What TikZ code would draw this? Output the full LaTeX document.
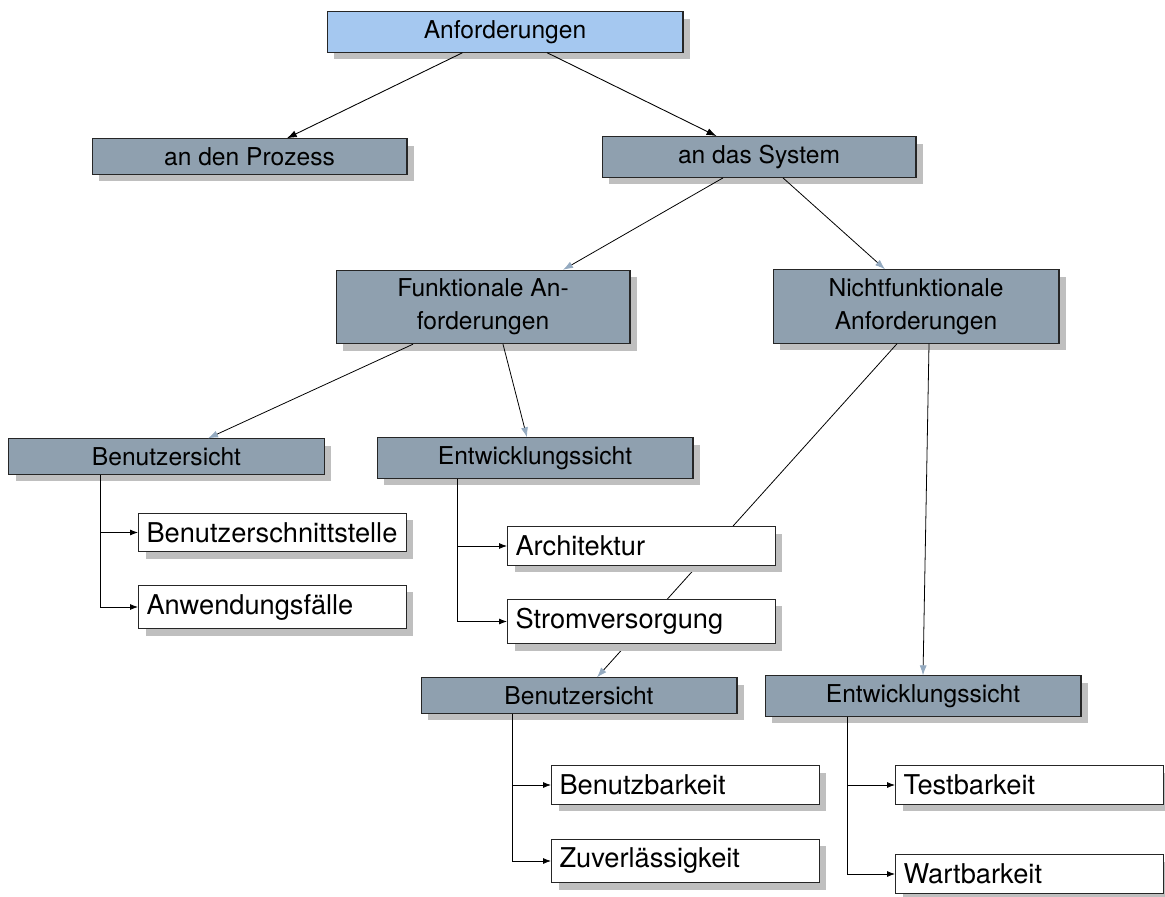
\documentclass[tikz,border=0pt]{standalone}
\usepackage{fontspec}
\setmainfont{TeX Gyre Heros}
\usetikzlibrary{arrows.meta,shadows}
\definecolor{anfblue}{RGB}{165,200,240}
\definecolor{boxgray}{RGB}{143,160,175}
\definecolor{tipgray}{RGB}{148,170,192}
\definecolor{shadowgray}{RGB}{191,191,191}

\begin{document}
\begin{tikzpicture}[x=0.02cm,y=-0.02cm,
    box/.style={draw=black!85,line width=0.6pt,
      drop shadow={shadow xshift=0.14cm,shadow yshift=-0.14cm,fill=shadowgray,opacity=1},
      font=\fontsize{14}{18.8}\selectfont,align=center,inner xsep=0.16cm,inner ysep=0.17cm,minimum height=0.7cm},
    graybox/.style={box,fill=boxgray,minimum width=6.32cm},
    leaf/.style={box,fill=white,anchor=west,align=left,text width=5.04cm,inner xsep=0.16cm,inner ysep=0.18cm,
      font=\fontsize{15.5}{18}\selectfont},
    topedge/.style={draw=black,line width=0.5pt,-{Latex[length=0.2cm,width=0.14cm]}},
    subedge/.style={draw=black,line width=0.45pt,-{Latex[length=0.2cm,width=0.14cm,color=tipgray]}},
    treearrow/.style={draw=black,line width=0.45pt,-{Latex[length=0.16cm,width=0.12cm]}}]
      \useasboundingbox (0,0) rectangle (1165,896);
      \node[graybox,fill=anfblue,minimum width=7.12cm,minimum height=0.8cm] (anf) at (505,32) {Anforderungen};
      \node[graybox,minimum width=6.3cm] (proz) at (249.5,156.5) {an den Prozess};
      \node[graybox,minimum width=6.28cm] (sys) at (759,157) {an das System};
      \node[graybox,minimum width=5.88cm] (funk) at (483,307) {Funktionale An-\\forderungen};
      \node[graybox,minimum width=5.72cm] (nfunk) at (916,306.5) {Nichtfunktionale\\Anforderungen};
      \node[graybox] (fbsicht) at (166.5,456.5) {Benutzersicht};
      \node[graybox] (fesicht) at (535,458) {Entwicklungssicht};
      \node[graybox] (nbsicht) at (579,695.5) {Benutzersicht};
      \node[graybox] (nesicht) at (923,696) {Entwicklungssicht};
      \draw[topedge] (anf) -- (proz);
      \draw[topedge] (anf) -- (sys);
      \draw[subedge] ([xshift=-0.72cm]sys.south) -- ([xshift=1.6cm]funk.north);
      \draw[subedge] ([xshift=0.48cm]sys.south) -- ([xshift=-0.62cm]nfunk.north);
      \draw[subedge] ([xshift=-1.4cm]funk.south) -- ([xshift=0.83cm]fbsicht.north);
      \draw[subedge] ([xshift=0.4cm]funk.south) -- ([xshift=-0.16cm]fesicht.north);
      \draw[subedge] ([xshift=-0.38cm]nfunk.south) -- ([xshift=0.36cm]nbsicht.north);
      \draw[subedge] ([xshift=0.26cm]nfunk.south) -- (nesicht.north);
      \node[leaf] (bsst) at (138,532.5) {Benutzerschnittstelle};
      \node[leaf] (anwf) at (138,607) {Anwendungsfälle};
      \node[leaf] (arch) at (507,546) {Architektur};
      \node[leaf] (strom) at (507,621.5) {Stromversorgung};
      \node[leaf] (benb) at (551,785) {Benutzbarkeit};
      \node[leaf] (zuverl) at (551,861) {Zuverlässigkeit};
      \node[leaf] (testb) at (895,785) {Testbarkeit};
      \node[leaf] (wartb) at (895,874) {Wartbarkeit};
      \draw[treearrow] ([xshift=-1.33cm]fbsicht.south) |- (bsst.west);
      \draw[treearrow] ([xshift=-1.33cm]fbsicht.south) |- (anwf.west);
      \draw[treearrow] ([xshift=-1.56cm]fesicht.south) |- (arch.west);
      \draw[treearrow] ([xshift=-1.56cm]fesicht.south) |- (strom.west);
      \draw[treearrow] ([xshift=-1.34cm]nbsicht.south) |- (benb.west);
      \draw[treearrow] ([xshift=-1.34cm]nbsicht.south) |- (zuverl.west);
      \draw[treearrow] ([xshift=-1.52cm]nesicht.south) |- (testb.west);
      \draw[treearrow] ([xshift=-1.52cm]nesicht.south) |- (wartb.west);
    \end{tikzpicture}
\end{document}
